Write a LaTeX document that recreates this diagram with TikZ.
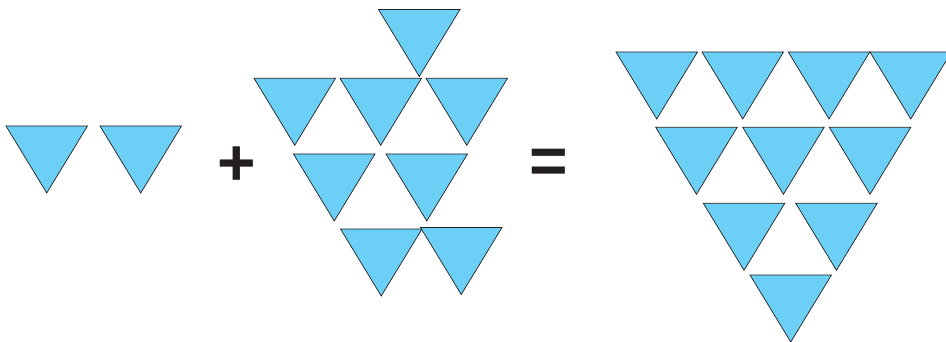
\documentclass[tikz,border=0pt]{standalone}
\usepackage{fontspec}
\setmainfont{Liberation Sans}
\definecolor{triblue}{HTML}{6BCFF6}
\definecolor{triline}{HTML}{231F20}
\tikzset{
  tri/.style={fill=triblue, draw=triline, line width=0.7pt, line join=miter},
  opsign/.style={inner sep=0pt, font=\fontsize{66}{66}\selectfont\bfseries, text=triline}
}
\newcommand\tri[2]{\path[tri] (#1,#2) -- ++(81.5,0) -- ++(-40.75,67) -- cycle;}
\begin{document}
\begin{tikzpicture}[x=1pt,y=-1pt]
\useasboundingbox (0,0) rectangle (946,342);
% left group
\tri{6}{126}
\tri{100}{126}
% plus
\node[opsign] (plus) at (236.5,166) {+};
% middle group
\tri{378.5}{9.5}
\tri{254}{78.3}
\tri{340}{78.3}
\tri{426}{78.3}
\tri{293.5}{154}
\tri{386}{154}
\tri{340.5}{229}
\tri{420.5}{227.5}
% equals
\node[opsign] (eq) at (548.7,166.7) {=};
% right group
\tri{616}{52}
\tri{702}{52}
\tri{788.3}{52}
\tri{870}{52}
\tri{655.7}{127.3}
\tri{742.7}{127.3}
\tri{829.3}{127.3}
\tri{703.3}{203.3}
\tri{795.7}{203.3}
\tri{750}{275}
\end{tikzpicture}
\end{document}
